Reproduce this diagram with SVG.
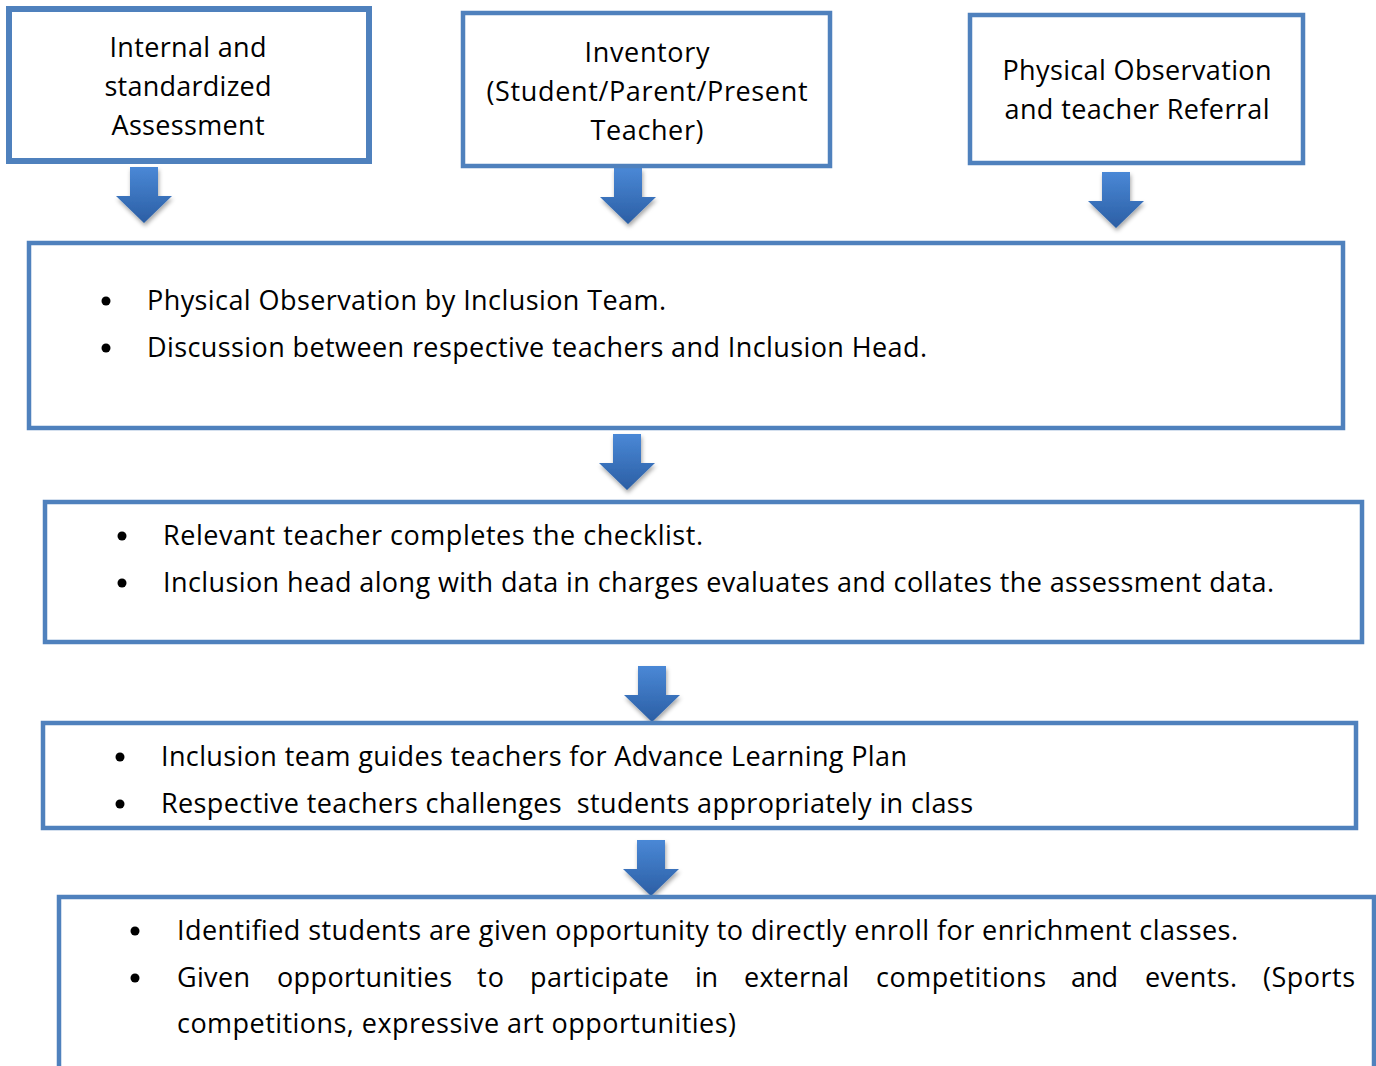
<svg xmlns="http://www.w3.org/2000/svg" width="1376" height="1066" viewBox="0 0 1376 1066">
<defs>
<linearGradient id="ag" x1="0" y1="0" x2="0" y2="1">
<stop offset="0" stop-color="#4a88d6"/>
<stop offset="1" stop-color="#2b5ea4"/>
</linearGradient>
<filter id="sh" x="-30%" y="-20%" width="160%" height="160%">
<feDropShadow dx="1" dy="3" stdDeviation="2" flood-color="#000" flood-opacity="0.35"/>
</filter>
<path id="arrow" d="M-14,0 H14 V29 H28 L0,56 L-28,29 H-14 Z"/>
</defs>
<style>
.box{fill:#fff;stroke:#4f81bd;stroke-width:4.5}
.thick{stroke-width:6}
.t{font-family:"Open Sans","Noto Sans",sans-serif;font-size:27px;fill:#000}
.c{text-anchor:middle}
.b{fill:#000}
.arr{fill:url(#ag);filter:url(#sh)}
</style>
<rect width="1376" height="1066" fill="#fff"/>

<g id="connectors">
<use href="#arrow" class="arr" x="144" y="167"/>
<use href="#arrow" class="arr" x="628" y="168"/>
<use href="#arrow" class="arr" x="1116" y="172"/>
<use href="#arrow" class="arr" x="627" y="434"/>
<use href="#arrow" class="arr" x="652" y="666"/>
<use href="#arrow" class="arr" x="651" y="840"/>
</g>

<g id="node1">
<rect class="box thick" x="9" y="9" width="360" height="152"/>
<text class="t c" x="188" y="57" textLength="157">Internal and</text>
<text class="t c" x="188" y="96" textLength="167">standardized</text>
<text class="t c" x="188" y="135" textLength="153">Assessment</text>
</g>

<g id="node2">
<rect class="box" x="463" y="13" width="367" height="153"/>
<text class="t c" x="647" y="62" textLength="125">Inventory</text>
<text class="t c" x="647" y="101" textLength="321">(Student/Parent/Present</text>
<text class="t c" x="647" y="140" textLength="113">Teacher)</text>
</g>

<g id="node3">
<rect class="box" x="970" y="15" width="333" height="148"/>
<text class="t c" x="1137" y="80" textLength="269">Physical Observation</text>
<text class="t c" x="1137" y="119" textLength="265">and teacher Referral</text>
</g>

<g id="node4">
<rect class="box" x="29" y="243" width="1314" height="185"/>
<circle class="b" cx="106" cy="301" r="4.5"/>
<circle class="b" cx="106" cy="348" r="4.5"/>
<text class="t" x="147" y="310" textLength="519">Physical Observation by Inclusion Team.</text>
<text class="t" x="147" y="357" textLength="780">Discussion between respective teachers and Inclusion Head.</text>
</g>

<g id="node5">
<rect class="box" x="45" y="502" width="1317" height="140"/>
<circle class="b" cx="122" cy="536" r="4.5"/>
<circle class="b" cx="122" cy="583" r="4.5"/>
<text class="t" x="163" y="545" textLength="540">Relevant teacher completes the checklist.</text>
<text class="t" x="163" y="592" textLength="1111">Inclusion head along with data in charges evaluates and collates the assessment data.</text>
</g>

<g id="node6">
<rect class="box" x="43" y="723" width="1313" height="105"/>
<circle class="b" cx="120" cy="757" r="4.5"/>
<circle class="b" cx="120" cy="804" r="4.5"/>
<text class="t" x="161" y="766" textLength="746">Inclusion team guides teachers for Advance Learning Plan</text>
<text class="t" x="161" y="813" textLength="812" xml:space="preserve">Respective teachers challenges  students appropriately in class</text>
</g>

<g id="node7">
<rect class="box" x="59" y="897" width="1315" height="200"/>
<circle class="b" cx="135" cy="931" r="4.5"/>
<circle class="b" cx="135" cy="978" r="4.5"/>
<text class="t" x="177" y="940" textLength="1061">Identified students are given opportunity to directly enroll for enrichment classes.</text>
<text class="t" y="987"><tspan x="177" textLength="73">Given</tspan><tspan x="277" textLength="175">opportunities</tspan><tspan x="477" textLength="27">to</tspan><tspan x="530" textLength="139">participate</tspan><tspan x="695" textLength="23">in</tspan><tspan x="744" textLength="105">external</tspan><tspan x="876" textLength="170">competitions</tspan><tspan x="1071" textLength="47">and</tspan><tspan x="1145" textLength="92">events.</tspan><tspan x="1263" textLength="92">(Sports</tspan></text>
<text class="t" x="177" y="1033" textLength="559">competitions, expressive art opportunities)</text>
</g>
</svg>
